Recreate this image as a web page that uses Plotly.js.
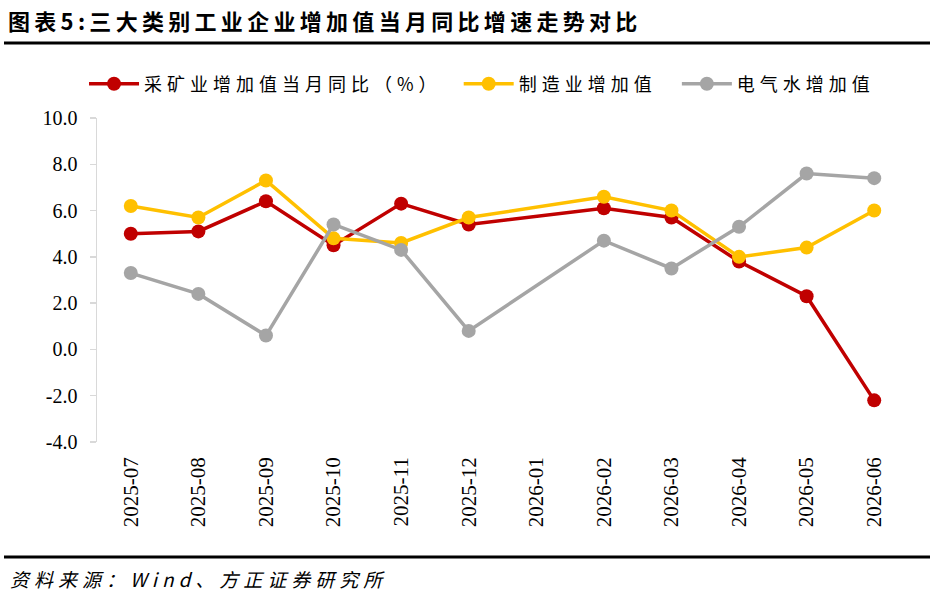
<!DOCTYPE html>
<html>
<head>
<meta charset="utf-8">
<script src="https://cdn.plot.ly/plotly-3.0.1.min.js"></script>
<style>
  html, body { margin: 0; padding: 0; background: #fff; }
  #chart { width: 935px; height: 596px; }
  .legendtext { letter-spacing: 5px; }
  .gtitle { letter-spacing: 4.3px; }
  .annotation-text { letter-spacing: 5px; }
</style>
</head>
<body>
<div id="chart"></div>
<script>
// 月份
const months = ['2025-07', '2025-08', '2025-09', '2025-10', '2025-11', '2025-12',
                '2026-01', '2026-02', '2026-03', '2026-04', '2026-05', '2026-06'];

// 当月同比（%），2026-01 无数据
const mining        = [5.0, 5.1, 6.4, 4.5, 6.3, 5.4, null, 6.1, 5.7, 3.8, 2.3, -2.2];
const manufacturing = [6.2, 5.7, 7.3, 4.8, 4.6, 5.7, null, 6.6, 6.0, 4.0, 4.4, 6.0];
const utilities     = [3.3, 2.4, 0.6, 5.4, 4.3, 0.8, null, 4.7, 3.5, 5.3, 7.6, 7.4];

const seriesNames = ['采矿业增加值当月同比（%）', '制造业增加值', '电气水增加值'];
const colors = ['#C00000', '#FFC000', '#A5A5A5'];
const legendIds = ['legend', 'legend2', 'legend3'];

const serif = '"Liberation Serif", "Times New Roman", serif';
const cjk = '"Noto Sans CJK SC", sans-serif';

// y 轴刻度（用连字符负号，与原图一致）
const yMin = -4, yMax = 10, yStep = 2;
const yTickVals = [];
for (let v = yMin; v <= yMax; v += yStep) yTickVals.push(v);
const yTickText = yTickVals.map(v => v.toFixed(1));

function makeTrace(values, i) {
    return {
        x: months,
        y: values,
        name: seriesNames[i],
        legend: legendIds[i],
        type: 'scatter',
        mode: 'lines+markers',
        connectgaps: true,
        line: { color: colors[i], width: 3.5 },
        marker: { color: colors[i], size: 14 },
        hovertemplate: seriesNames[i] + ': %{y:.1f}<extra></extra>'
    };
}

const traces = [mining, manufacturing, utilities].map(makeTrace);

const zeroPos = (0 - yMin) / (yMax - yMin);

function legendAt(x) {
    return {
        orientation: 'h',
        x: x, xanchor: 'left',
        y: 1.105, yanchor: 'middle',
        itemwidth: 50,
        font: { family: cjk, size: 18, color: '#000' },
        bgcolor: 'rgba(0,0,0,0)'
    };
}

const layout = {
    width: 935,
    height: 596,
    paper_bgcolor: '#fff',
    plot_bgcolor: '#fff',
    margin: { l: 97, r: 27, t: 118, b: 154 },
    showlegend: true,
    title: {
        text: '图表5:三大类别工业企业增加值当月同比增速走势对比',
        font: { family: cjk, size: 22, color: '#000', weight: 'bold' },
        xref: 'container', x: 8 / 935, xanchor: 'left',
        yref: 'container', y: 1 - 22 / 596, yanchor: 'middle'
    },
    legend: legendAt(-0.016),
    legend2: legendAt(0.446),
    legend3: legendAt(0.715),
    xaxis: {
        type: 'category',
        categoryarray: months,
        range: [-0.5, months.length - 0.5],
        showline: false,
        showgrid: false,
        zeroline: false,
        ticks: '',
        tickangle: -90,
        ticklabelstandoff: 10,
        tickfont: { family: serif, size: 21, color: '#000' },
        fixedrange: true
    },
    xaxis2: {
        overlaying: 'x',
        anchor: 'free',
        position: zeroPos,
        type: 'linear',
        range: [-0.5, months.length - 0.5],
        tick0: -0.5,
        dtick: 1,
        ticks: 'outside',
        ticklen: 7,
        tickwidth: 1.5,
        tickcolor: '#D9D9D9',
        showticklabels: false,
        showline: true,
        linecolor: '#D9D9D9',
        linewidth: 1.5,
        showgrid: false,
        zeroline: false
    },
    yaxis: {
        range: [yMin, yMax],
        tickmode: 'array',
        tickvals: yTickVals,
        ticktext: yTickText,
        showline: true,
        linecolor: '#D9D9D9',
        linewidth: 1.5,
        ticks: 'outside',
        ticklen: 6,
        tickwidth: 1.5,
        tickcolor: '#D9D9D9',
        ticklabelstandoff: 8,
        showgrid: false,
        zeroline: false,
        tickfont: { family: serif, size: 20, color: '#000' },
        fixedrange: true
    },
    shapes: [
        {
            type: 'line', xref: 'paper', yref: 'paper',
            x0: (4 - 97) / 811, x1: (930 - 97) / 811,
            y0: (442 - 43) / 324, y1: (442 - 43) / 324,
            line: { color: '#000', width: 3 }
        },
        {
            type: 'line', xref: 'paper', yref: 'paper',
            x0: (4 - 97) / 811, x1: (930 - 97) / 811,
            y0: (442 - 557) / 324, y1: (442 - 557) / 324,
            line: { color: '#000', width: 3 }
        }
    ],
    annotations: [
        {
            text: '资料来源：Wind、方正证券研究所',
            xref: 'paper', yref: 'paper',
            x: (8 - 97) / 811, xanchor: 'left',
            y: (442 - 578) / 324, yanchor: 'middle',
            showarrow: false,
            font: { family: cjk, size: 19, color: '#000', style: 'italic' }
        }
    ]
};

Plotly.newPlot('chart', traces, layout, { displayModeBar: false, staticPlot: true })
    .then(() => {
        // 图例文字加字距（贴近原图排版），并去掉图例裁剪，避免加宽后被截断
        document.querySelectorAll('#chart .infolayer > g').forEach(g => {
            if (!/^legend/.test(g.getAttribute('class') || '')) return;
            g.querySelectorAll('text').forEach(t => { t.style.letterSpacing = '5px'; });
            g.querySelectorAll('[clip-path]').forEach(el => el.removeAttribute('clip-path'));
        });
    });
</script>
</body>
</html>
